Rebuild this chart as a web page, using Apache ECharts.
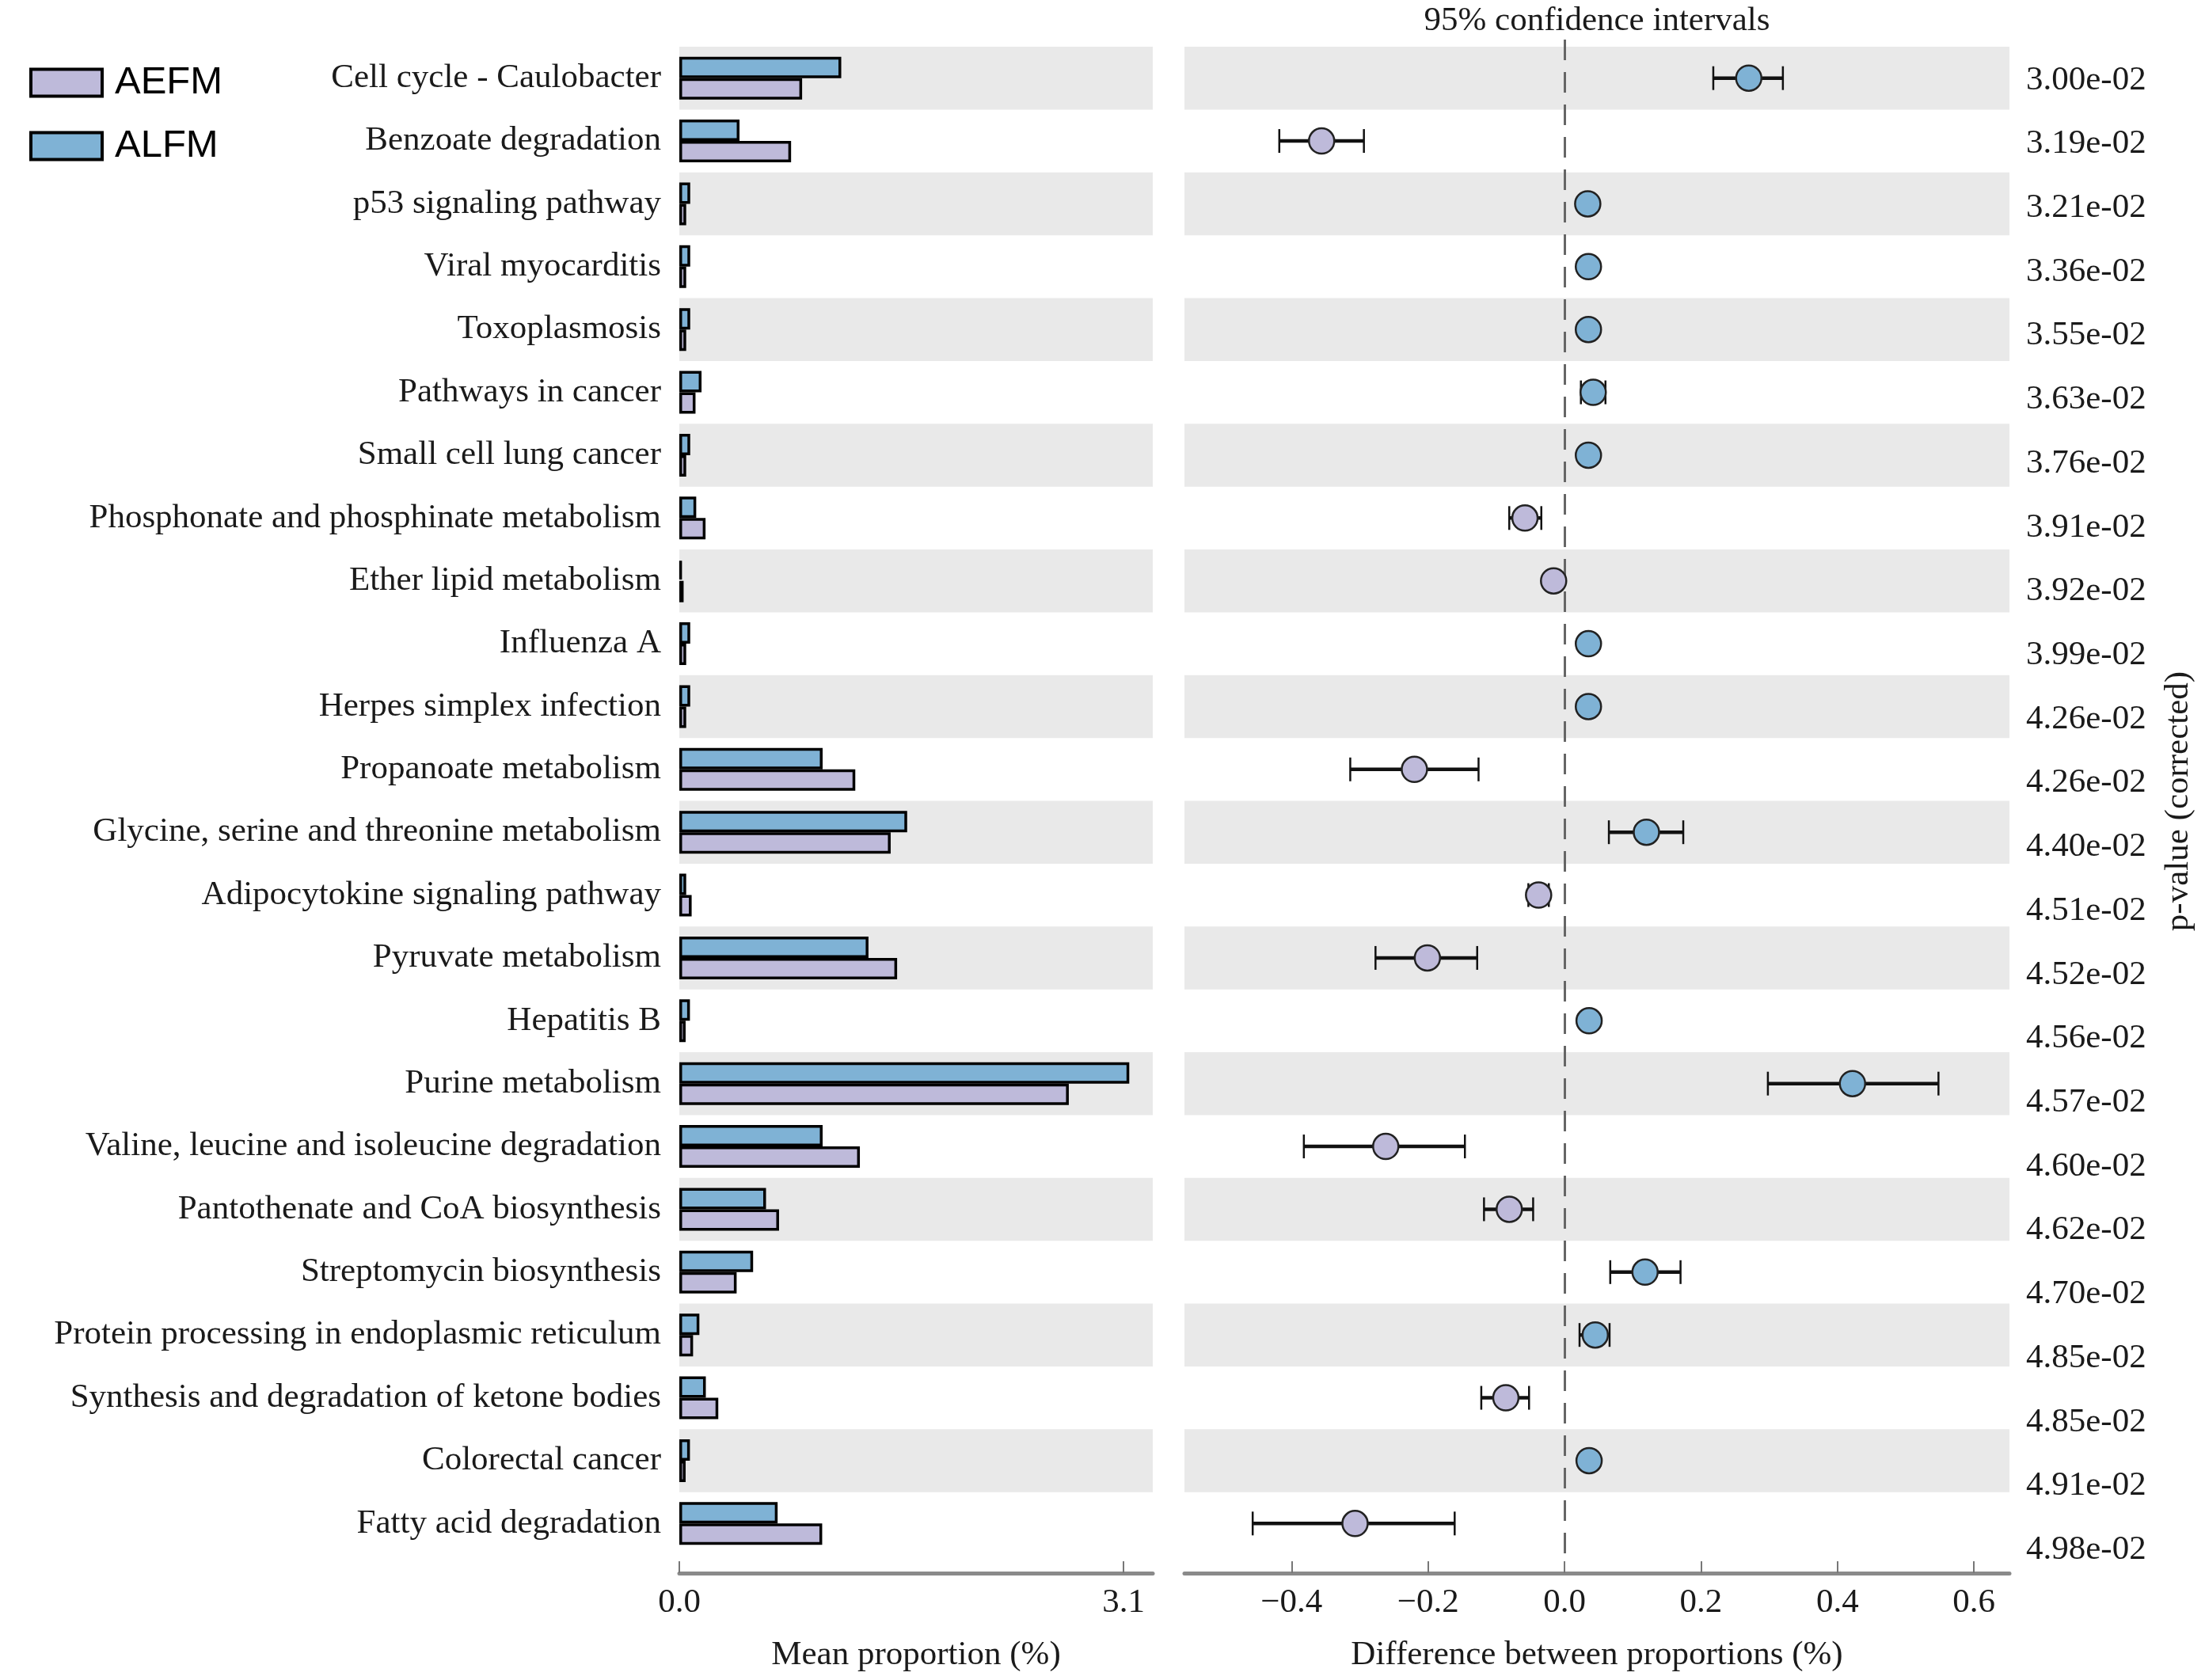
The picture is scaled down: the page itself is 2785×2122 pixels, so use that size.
<!DOCTYPE html>
<html>
<head>
<meta charset="utf-8">
<script src="https://cdn.jsdelivr.net/npm/echarts@6/dist/echarts.min.js"></script>
<style>
  html, body { margin: 0; padding: 0; background: #fff; }
  #chart { width: 2785px; height: 2122px; }
</style>
</head>
<body>
<div id="chart"></div>
<script>
var categories = [
    'Cell cycle - Caulobacter', 'Benzoate degradation', 'p53 signaling pathway',
    'Viral myocarditis', 'Toxoplasmosis', 'Pathways in cancer', 'Small cell lung cancer',
    'Phosphonate and phosphinate metabolism', 'Ether lipid metabolism', 'Influenza A',
    'Herpes simplex infection', 'Propanoate metabolism', 'Glycine, serine and threonine metabolism',
    'Adipocytokine signaling pathway', 'Pyruvate metabolism', 'Hepatitis B', 'Purine metabolism',
    'Valine, leucine and isoleucine degradation', 'Pantothenate and CoA biosynthesis',
    'Streptomycin biosynthesis', 'Protein processing in endoplasmic reticulum',
    'Synthesis and degradation of ketone bodies', 'Colorectal cancer', 'Fatty acid degradation'
];

// mean proportion (%)
var alfm = [1.13, 0.42, 0.076, 0.076, 0.076, 0.155, 0.076, 0.118, 0.018, 0.076, 0.076, 1.0,
            1.59, 0.048, 1.32, 0.074, 3.14, 1.0, 0.605, 0.515, 0.14, 0.185, 0.074, 0.686];
var aefm = [0.857, 0.78, 0.048, 0.048, 0.048, 0.113, 0.048, 0.183, 0.03, 0.048, 0.048, 1.228,
            1.475, 0.086, 1.52, 0.044, 2.718, 1.26, 0.696, 0.4, 0.096, 0.272, 0.044, 0.997];

// difference between proportions (%) and 95% CI
var diffMean = [0.27, -0.356, 0.034, 0.035, 0.035, 0.042, 0.035, -0.058, -0.016, 0.035, 0.035, -0.22,
                0.12, -0.038, -0.201, 0.036, 0.422, -0.262, -0.081, 0.118, 0.045, -0.086, 0.036, -0.307];
var ciLow = [0.218, -0.418, 0.027, 0.027, 0.027, 0.024, 0.027, -0.081, -0.024, 0.027, 0.027, -0.314,
             0.065, -0.053, -0.277, 0.028, 0.298, -0.382, -0.118, 0.067, 0.022, -0.122, 0.028, -0.457];
var ciHigh = [0.32, -0.294, 0.042, 0.043, 0.043, 0.06, 0.043, -0.034, -0.008, 0.043, 0.043, -0.126,
              0.174, -0.023, -0.128, 0.044, 0.548, -0.146, -0.046, 0.17, 0.066, -0.052, 0.044, -0.161];

var pValues = ['3.00e-02', '3.19e-02', '3.21e-02', '3.36e-02', '3.55e-02', '3.63e-02', '3.76e-02',
               '3.91e-02', '3.92e-02', '3.99e-02', '4.26e-02', '4.26e-02', '4.40e-02', '4.51e-02',
               '4.52e-02', '4.56e-02', '4.57e-02', '4.60e-02', '4.62e-02', '4.70e-02', '4.85e-02',
               '4.85e-02', '4.91e-02', '4.98e-02'];

var meanTicks = [0, 3.1];
var diffTicks = [-0.4, -0.2, 0, 0.2, 0.4, 0.6];

var colorAEFM = '#bebada';
var colorALFM = '#7fb2d5';
var serif = 'Liberation Serif';
var txt = '#1a1a1a';

var myChart = echarts.init(document.getElementById('chart'));

function fmtTick(v) {
    return v < 0 ? '\u2212' + Math.abs(v).toFixed(1) : v.toFixed(1);
}

var errData = [];
var dotData = [];
for (var i = 0; i < categories.length; i++) {
    errData.push([i, ciLow[i], ciHigh[i]]);
    dotData.push([diffMean[i], i]);
}

function valueAxis(grid, min, max, ticks, name) {
    return {
        type: 'value', gridIndex: grid, min: min, max: max, offset: 23,
        axisLine: { show: true, onZero: false, lineStyle: { color: '#8a8a8a', width: 5 } },
        axisTick: { show: true, inside: true, length: 15, customValues: ticks,
                    lineStyle: { color: '#777', width: 2 } },
        axisLabel: { customValues: ticks, formatter: fmtTick, margin: 16,
                     fontFamily: serif, fontSize: 43, color: txt },
        splitLine: { show: false },
        name: name, nameLocation: 'middle', nameGap: 82,
        nameTextStyle: { fontFamily: serif, fontSize: 43, color: txt }
    };
}

var bandArea = { show: true, areaStyle: { color: ['#e9e9e9', 'rgba(255,255,255,0)'] } };

var option = {
    backgroundColor: '#fff',
    animation: false,
    legend: {
        data: ['AEFM', 'ALFM'],
        orient: 'vertical', left: 37, top: 80, padding: 0,
        itemWidth: 90, itemHeight: 34, itemGap: 31,
        icon: 'rect',
        itemStyle: { borderColor: '#000', borderWidth: 4 },
        textStyle: { fontFamily: 'Liberation Sans', fontSize: 49, lineHeight: 34, color: '#000',
                     padding: [0, 0, 0, 11] }
    },
    graphic: [
        { type: 'text', x: 2017, y: 27,
          style: { text: '95% confidence intervals', textAlign: 'center', textVerticalAlign: 'middle',
                   fontFamily: serif, fontSize: 43, fill: txt } },
        { type: 'text', x: 2752, y: 1012, rotation: Math.PI / 2,
          style: { text: 'p-value (corrected)', textAlign: 'center', textVerticalAlign: 'middle',
                   fontFamily: serif, fontSize: 43, fill: txt } }
    ],
    grid: [
        { left: 858, width: 598, top: 59, height: 1905, outerBoundsMode: 'none' },
        { left: 1496, width: 1042, top: 59, height: 1905, outerBoundsMode: 'none' },
        { left: 2502, width: 57, top: 61, height: 1937, outerBoundsMode: 'none' },
        { left: 1496, width: 1042, top: 48, height: 1914, outerBoundsMode: 'none' }
    ],
    xAxis: [
        valueAxis(0, 0, 3.304, meanTicks, 'Mean proportion (%)'),
        valueAxis(1, -0.557, 0.652, diffTicks, 'Difference between proportions (%)'),
        { type: 'value', gridIndex: 2, show: false },
        { type: 'value', gridIndex: 3, min: -0.557, max: 0.652, show: false }
    ],
    yAxis: [
        { type: 'category', gridIndex: 0, data: categories, inverse: true,
          axisLine: { show: false }, axisTick: { show: false },
          axisLabel: { margin: 23, fontFamily: serif, fontSize: 43, color: txt },
          splitArea: bandArea },
        { type: 'category', gridIndex: 1, data: categories, inverse: true,
          axisLine: { show: false }, axisTick: { show: false }, axisLabel: { show: false },
          splitArea: bandArea },
        { type: 'category', gridIndex: 2, data: pValues, inverse: true, position: 'right',
          axisLine: { show: false }, axisTick: { show: false },
          axisLabel: { margin: 0, align: 'left', fontFamily: serif, fontSize: 43, color: txt } },
        { type: 'value', gridIndex: 3, min: 0, max: 1, show: false }
    ],
    series: [
        { name: 'ALFM', type: 'bar', xAxisIndex: 0, yAxisIndex: 0, data: alfm,
          barWidth: 27, barGap: '0%',
          itemStyle: { color: colorALFM, borderColor: '#000', borderWidth: 3.5 } },
        { name: 'AEFM', type: 'bar', xAxisIndex: 0, yAxisIndex: 0, data: aefm,
          barWidth: 27, barGap: '0%',
          itemStyle: { color: colorAEFM, borderColor: '#000', borderWidth: 3.5 } },
        { name: 'zero', type: 'line', xAxisIndex: 3, yAxisIndex: 3, data: [],
          markLine: { silent: true, symbol: 'none', label: { show: false },
                      lineStyle: { color: '#666', width: 3, type: [26, 15] },
                      data: [{ xAxis: 0 }] } },
        { name: 'ci', type: 'custom', xAxisIndex: 1, yAxisIndex: 1, data: errData, z: 4,
          encode: { x: [1, 2], y: 0 },
          renderItem: function (params, api) {
              var cat = api.value(0);
              var p1 = api.coord([api.value(1), cat]);
              var p2 = api.coord([api.value(2), cat]);
              var h = 15;
              var st = { stroke: '#111', lineWidth: 4.5 };
              var cap = { stroke: '#111', lineWidth: 2.5 };
              return {
                  type: 'group',
                  children: [
                      { type: 'line', shape: { x1: p1[0], y1: p1[1], x2: p2[0], y2: p2[1] }, style: st },
                      { type: 'line', shape: { x1: p1[0], y1: p1[1] - h, x2: p1[0], y2: p1[1] + h }, style: cap },
                      { type: 'line', shape: { x1: p2[0], y1: p2[1] - h, x2: p2[0], y2: p2[1] + h }, style: cap }
                  ]
              };
          } },
        { name: 'diff', type: 'scatter', xAxisIndex: 1, yAxisIndex: 1, data: dotData, z: 5,
          symbol: 'circle', symbolSize: 32,
          itemStyle: {
              color: function (p) { return p.value[0] > 0 ? colorALFM : colorAEFM; },
              borderColor: '#222', borderWidth: 2.5, opacity: 1
          } }
    ]
};

myChart.setOption(option, true);
</script>
</body>
</html>
